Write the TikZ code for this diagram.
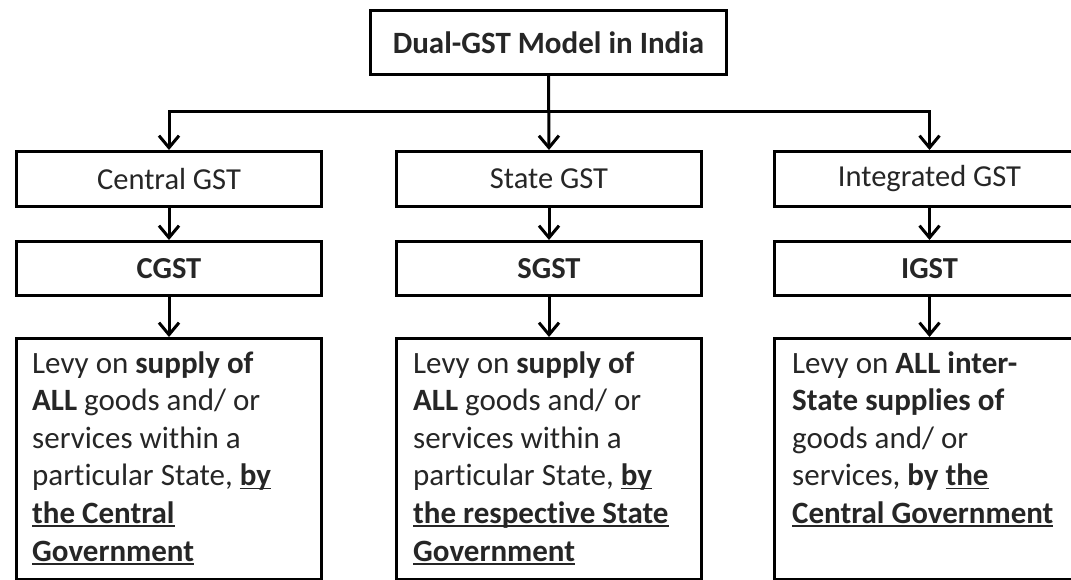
\documentclass[tikz,border=0pt]{standalone}
\usepackage{fontspec}
\setmainfont{Carlito}[Ligatures=NoCommon]
\usetikzlibrary{arrows.meta}
\newcommand\myul[1]{\leavevmode\setbox0\hbox{#1}\rlap{\rule[-3.5pt]{\wd0}{1.6pt}}\box0}
\begin{document}
\begin{tikzpicture}[x=1pt,y=-1pt,
  box/.style={draw=black, line width=3pt, rectangle, inner sep=0pt, anchor=north west, fill=white,
              text=black!85, font=\fontsize{30.5}{36}\selectfont},
  conn/.style={line width=3pt, -{Straight Barb[length=12pt,width=20pt,line width=3pt]}},
  ln/.style={anchor=base west, inner sep=0pt, text=black!85, font=\fontsize{31}{36}\selectfont}]
\useasboundingbox[fill=white] (0,0) rectangle (1071,579);
% top
\node[box, minimum width=356pt, minimum height=64pt, font=\fontsize{31}{36}\selectfont\bfseries] (top) at (369,9) {Dual-GST Model in India};
% tier 1
\node[box, minimum width=305pt, minimum height=55pt] (cen) at (15,150) {Central GST};
\node[box, minimum width=305pt, minimum height=55pt] (sta) at (395,150) {State GST};
\node[box, minimum width=310pt, minimum height=55pt] (int) at (773,150) {Integrated GST};
% tier 2
\node[box, minimum width=305pt, minimum height=54pt] (cg) at (15,240) {\textbf{CGST}};
\node[box, minimum width=305pt, minimum height=54pt] (sg) at (395,240) {\textbf{SGST}};
\node[box, minimum width=310pt, minimum height=54pt] (ig) at (773,240) {\textbf{IGST}};
% tier 3
\node[box, minimum width=305pt, minimum height=241pt] (cd) at (15,337) {};
\node[box, minimum width=305pt, minimum height=241pt] (sd) at (395,337) {};
\node[box, minimum width=310pt, minimum height=241pt] (id) at (773,337) {};
% connectors
\coordinate (hy) at (547,111);
\draw[conn] (top.south) -- (sta.north);
\draw[conn] (hy) -| (cen.north);
\draw[conn] (hy) -| (int.north);
\draw[conn] (cen.south) -- (cg.north);
\draw[conn] (sta.south) -- (sg.north);
\draw[conn] (int.south) -- (ig.north);
\draw[conn] (cg.south) -- (cd.north);
\draw[conn] (sg.south) -- (sd.north);
\draw[conn] (ig.south) -- (id.north);
% column 1 text
\node[ln] (c1) at (32,373) {Levy on \textbf{supply of}};
\node[ln] (c2) at (32,410.6) {\textbf{ALL} goods and/ or};
\node[ln] (c3) at (32,448.2) {services within a};
\node[ln] (c4) at (32,485.8) {particular State, \textbf{\myul{by}}};
\node[ln] (c5) at (32,523.4) {\textbf{\myul{the Central}}};
\node[ln] (c6) at (32,561) {\textbf{\myul{Government}}};
% column 2 text
\node[ln] (s1) at (413,373) {Levy on \textbf{supply of}};
\node[ln] (s2) at (413,410.6) {\textbf{ALL} goods and/ or};
\node[ln] (s3) at (413,448.2) {services within a};
\node[ln] (s4) at (413,485.8) {particular State, \textbf{\myul{by}}};
\node[ln] (s5) at (413,523.4) {\textbf{\myul{the respective State}}};
\node[ln] (s6) at (413,561) {\textbf{\myul{Government}}};
% column 3 text
\node[ln] (i1) at (792,373) {Levy on \textbf{ALL inter-}};
\node[ln] (i2) at (792,410.6) {\textbf{State supplies of}};
\node[ln] (i3) at (792,448.2) {goods and/ or};
\node[ln] (i4) at (792,485.8) {services, \textbf{by \myul{the}}};
\node[ln] (i5) at (792,523.4) {\textbf{\myul{Central Government}}};
\end{tikzpicture}
\end{document}
